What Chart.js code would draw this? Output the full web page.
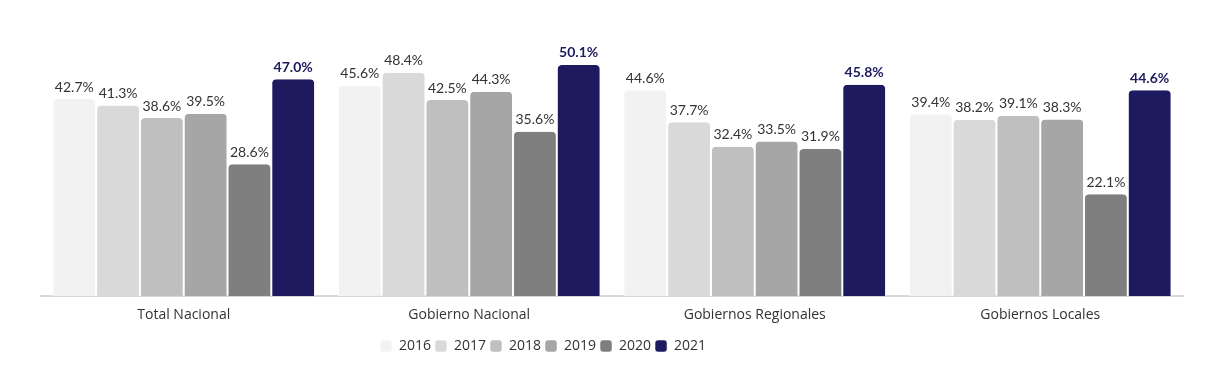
<!DOCTYPE html>
<html><head><meta charset="utf-8">
<script src="https://cdn.jsdelivr.net/npm/chart.js@4/dist/chart.umd.min.js"></script>
<style>html,body{margin:0;padding:0;background:#fff}#wrap{width:1220px;height:366px}</style>
</head><body><div id="wrap"><canvas id="c" width="1220" height="366"></canvas></div>
<script>
const categories = ["Total Nacional","Gobierno Nacional","Gobiernos Regionales","Gobiernos Locales"];
const years = ["2016","2017","2018","2019","2020","2021"];
const v2016 = [42.7, 45.6, 44.6, 39.4];
const v2017 = [41.3, 48.4, 37.7, 38.2];
const v2018 = [38.6, 42.5, 32.4, 39.1];
const v2019 = [39.5, 44.3, 33.5, 38.3];
const v2020 = [28.6, 35.6, 31.9, 22.1];
const v2021 = [47.0, 50.1, 45.8, 44.6];
const colors = ["#f2f2f2","#d9d9d9","#bfbfbf","#a6a6a6","#7f7f7f","#1e1a5f"];
const series = [v2016,v2017,v2018,v2019,v2020,v2021];
const FONT = "Lato, 'Noto Sans', sans-serif";
const FONT2 = "'Open Sans', sans-serif";

const labelPlugin = {
  id:'vals',
  beforeDraw(chart){
    const lg = chart.legend;
    if(lg && !lg._shifted){
      lg.left -= 69; lg.right -= 69; lg.top += 2; lg.bottom += 2;
      lg._shifted = true;
    }
  },
  afterDatasetsDraw(chart){
    const ctx = chart.ctx;
    chart.data.datasets.forEach((ds,i)=>{
      const meta = chart.getDatasetMeta(i);
      const last = i === chart.data.datasets.length-1;
      ctx.save();
      ctx.font = (last?'bold ':'') + '14px ' + FONT;
      ctx.fillStyle = last ? '#1e1a5f' : '#333333';
      ctx.textAlign='center'; ctx.textBaseline='bottom';
      meta.data.forEach((bar,j)=>{
        ctx.fillText(ds.data[j].toFixed(1)+'%', bar.x, bar.y-5);
      });
      ctx.restore();
    });
  }
};

new Chart(document.getElementById('c'),{
  type:'bar',
  data:{labels:categories,datasets:series.map((d,i)=>({label:years[i],data:d,backgroundColor:colors[i],borderColor:'#ffffff',borderWidth:{left:1,right:1,top:0,bottom:0},borderSkipped:'bottom',borderRadius:{topLeft:5,topRight:5},categoryPercentage:0.92,barPercentage:1}))},
  options:{
    responsive:false,animation:false,
    layout:{padding:{left:41,right:37,top:10,bottom:5}},
    plugins:{
      legend:{position:'bottom',labels:{boxWidth:12,boxHeight:12,padding:4,useBorderRadius:true,borderRadius:3,color:'#333',font:{family:FONT2,size:14}}},
      tooltip:{enabled:false}
    },
    scales:{
      x:{grid:{display:false,drawTicks:false},border:{display:true,color:'#d9d9d9',width:2},ticks:{color:'#333',font:{family:FONT2,size:14},padding:10}},
      y:{display:false,min:0,max:62}
    }
  },
  plugins:[labelPlugin]
});
</script></body></html>
